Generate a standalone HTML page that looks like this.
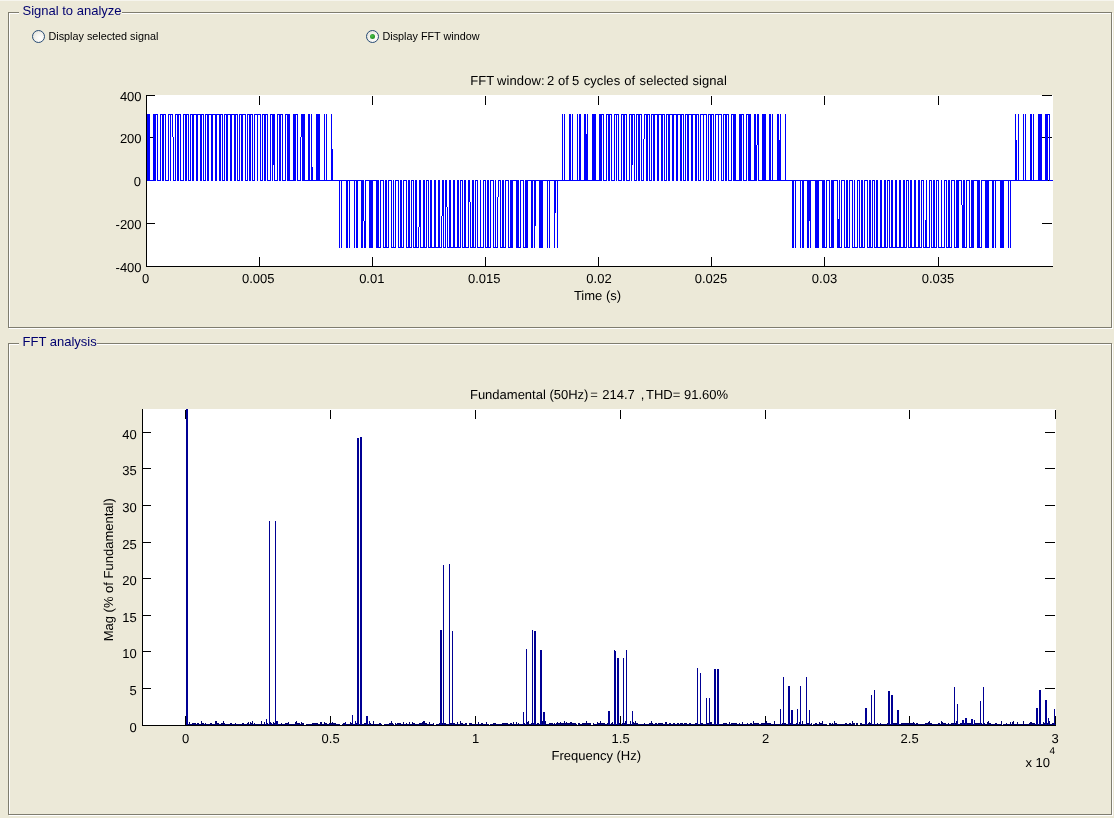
<!DOCTYPE html>
<html><head><meta charset="utf-8"><title>FFT Analysis</title>
<style>
html,body{margin:0;padding:0}
body{width:1114px;height:818px;overflow:hidden;background:#ECE9D8;position:relative;font-family:"Liberation Sans",Arial,sans-serif;}
.topline{position:absolute;left:0;top:0;width:1114px;height:1px;background:#F6F5EE}
.pnl{position:absolute;box-sizing:border-box;border:1px solid #7F7D6F}
.pnl.w{border-color:#fff}
.cap{position:absolute;background:#ECE9D8;color:#00006E;font-size:13px;line-height:15px;height:15px;padding:0 0.5px 0 3.5px;white-space:nowrap}
.rb{position:absolute;width:13px;height:13px;box-sizing:border-box;border:1px solid #274B75;border-radius:50%;background:radial-gradient(circle at 65% 65%,#fff 0%,#f4f3ee 45%,#dcdcd4 100%)}
.rb.on::after{content:"";position:absolute;left:3px;top:3px;width:5px;height:5px;border-radius:50%;background:radial-gradient(circle at 40% 40%,#4cc24c,#2a9a2a 55%,#1e7a1e)}
.lbl{position:absolute;font-size:10.8px;line-height:13px;color:#000;white-space:nowrap}
</style></head><body>
<div class="topline"></div>
<div class="pnl w" style="left:9px;top:13px;width:1104px;height:316px"></div>
<div class="pnl" style="left:8px;top:12px;width:1104px;height:316px"></div>
<div class="cap" style="left:19px;top:3px">Signal to analyze</div>
<div class="pnl w" style="left:9px;top:344px;width:1104px;height:472px"></div>
<div class="pnl" style="left:8px;top:343px;width:1104px;height:472px"></div>
<div class="cap" style="left:19px;top:334px">FFT analysis</div>
<div class="rb" style="left:32px;top:30px"></div>
<div class="lbl" style="left:48.5px;top:29.5px">Display selected signal</div>
<div class="rb on" style="left:366px;top:30px"></div>
<div class="lbl" style="left:382.5px;top:29.5px">Display FFT window</div>
<svg width="1114" height="818" viewBox="0 0 1114 818" style="position:absolute;left:0;top:0" shape-rendering="crispEdges"><rect x="146" y="95" width="907" height="172" fill="#fff"/><g fill="#000"><rect x="146" y="95" width="1" height="172"/><rect x="146" y="266" width="907" height="1"/><rect x="146" y="95" width="9" height="1"/><rect x="1042" y="95" width="10" height="1"/><rect x="146" y="137" width="9" height="1"/><rect x="1042" y="137" width="10" height="1"/><rect x="146" y="180" width="9" height="1"/><rect x="1042" y="180" width="10" height="1"/><rect x="146" y="223" width="9" height="1"/><rect x="1042" y="223" width="10" height="1"/><rect x="146" y="266" width="9" height="1"/><rect x="146" y="257" width="1" height="10"/><rect x="259" y="257" width="1" height="10"/><rect x="259" y="96" width="1" height="9"/><rect x="372" y="257" width="1" height="10"/><rect x="372" y="96" width="1" height="9"/><rect x="485" y="257" width="1" height="10"/><rect x="485" y="96" width="1" height="9"/><rect x="598" y="257" width="1" height="10"/><rect x="598" y="96" width="1" height="9"/><rect x="711" y="257" width="1" height="10"/><rect x="711" y="96" width="1" height="9"/><rect x="824" y="257" width="1" height="10"/><rect x="824" y="96" width="1" height="9"/><rect x="938" y="257" width="1" height="10"/><rect x="938" y="96" width="1" height="9"/></g><g fill="#0000FF"><rect x="147" y="114" width="3" height="1"/><rect x="153" y="114" width="5" height="1"/><rect x="160" y="114" width="6" height="1"/><rect x="168" y="114" width="5" height="1"/><rect x="175" y="114" width="6" height="1"/><rect x="183" y="114" width="6" height="1"/><rect x="190" y="114" width="14" height="1"/><rect x="205" y="114" width="18" height="1"/><rect x="224" y="114" width="14" height="1"/><rect x="239" y="114" width="7" height="1"/><rect x="247" y="114" width="6" height="1"/><rect x="254" y="114" width="7" height="1"/><rect x="262" y="114" width="6" height="1"/><rect x="270" y="114" width="5" height="1"/><rect x="277" y="114" width="6" height="1"/><rect x="285" y="114" width="5" height="1"/><rect x="293" y="114" width="5" height="1"/><rect x="301" y="114" width="4" height="1"/><rect x="308" y="114" width="2" height="1"/><rect x="311" y="114" width="1" height="1"/><rect x="316" y="114" width="4" height="1"/><rect x="324" y="114" width="1" height="1"/><rect x="326" y="114" width="1" height="1"/><rect x="331" y="114" width="1" height="1"/><rect x="562" y="114" width="1" height="1"/><rect x="564" y="114" width="1" height="1"/><rect x="569" y="114" width="2" height="1"/><rect x="572" y="114" width="1" height="1"/><rect x="577" y="114" width="1" height="1"/><rect x="579" y="114" width="2" height="1"/><rect x="584" y="114" width="2" height="1"/><rect x="587" y="114" width="1" height="1"/><rect x="592" y="114" width="4" height="1"/><rect x="599" y="114" width="5" height="1"/><rect x="606" y="114" width="6" height="1"/><rect x="614" y="114" width="5" height="1"/><rect x="621" y="114" width="6" height="1"/><rect x="629" y="114" width="6" height="1"/><rect x="636" y="114" width="6" height="1"/><rect x="644" y="114" width="6" height="1"/><rect x="651" y="114" width="14" height="1"/><rect x="666" y="114" width="18" height="1"/><rect x="685" y="114" width="14" height="1"/><rect x="700" y="114" width="7" height="1"/><rect x="708" y="114" width="6" height="1"/><rect x="715" y="114" width="7" height="1"/><rect x="723" y="114" width="6" height="1"/><rect x="731" y="114" width="5" height="1"/><rect x="739" y="114" width="5" height="1"/><rect x="746" y="114" width="5" height="1"/><rect x="754" y="114" width="2" height="1"/><rect x="757" y="114" width="2" height="1"/><rect x="762" y="114" width="4" height="1"/><rect x="769" y="114" width="2" height="1"/><rect x="772" y="114" width="1" height="1"/><rect x="777" y="114" width="2" height="1"/><rect x="780" y="114" width="1" height="1"/><rect x="785" y="114" width="1" height="1"/><rect x="1015" y="114" width="1" height="1"/><rect x="1018" y="114" width="1" height="1"/><rect x="1023" y="114" width="1" height="1"/><rect x="1025" y="114" width="1" height="1"/><rect x="1030" y="114" width="2" height="1"/><rect x="1033" y="114" width="1" height="1"/><rect x="1038" y="114" width="4" height="1"/><rect x="1045" y="114" width="5" height="1"/><rect x="147" y="180" width="9" height="1"/><rect x="157" y="180" width="4" height="1"/><rect x="162" y="180" width="2" height="1"/><rect x="165" y="180" width="4" height="1"/><rect x="170" y="180" width="1" height="1"/><rect x="173" y="180" width="3" height="1"/><rect x="177" y="180" width="2" height="1"/><rect x="180" y="180" width="4" height="1"/><rect x="185" y="180" width="2" height="1"/><rect x="188" y="180" width="3" height="1"/><rect x="192" y="180" width="2" height="1"/><rect x="196" y="180" width="2" height="1"/><rect x="200" y="180" width="2" height="1"/><rect x="203" y="180" width="3" height="1"/><rect x="207" y="180" width="2" height="1"/><rect x="211" y="180" width="2" height="1"/><rect x="215" y="180" width="2" height="1"/><rect x="219" y="180" width="2" height="1"/><rect x="222" y="180" width="3" height="1"/><rect x="226" y="180" width="2" height="1"/><rect x="230" y="180" width="2" height="1"/><rect x="234" y="180" width="2" height="1"/><rect x="237" y="180" width="3" height="1"/><rect x="241" y="180" width="2" height="1"/><rect x="245" y="180" width="3" height="1"/><rect x="249" y="180" width="2" height="1"/><rect x="252" y="180" width="3" height="1"/><rect x="257" y="180" width="1" height="1"/><rect x="260" y="180" width="3" height="1"/><rect x="264" y="180" width="2" height="1"/><rect x="267" y="180" width="4" height="1"/><rect x="272" y="180" width="1" height="1"/><rect x="274" y="180" width="4" height="1"/><rect x="279" y="180" width="2" height="1"/><rect x="282" y="180" width="4" height="1"/><rect x="287" y="180" width="9" height="1"/><rect x="297" y="180" width="4" height="1"/><rect x="302" y="180" width="62" height="1"/><rect x="365" y="180" width="14" height="1"/><rect x="380" y="180" width="4" height="1"/><rect x="385" y="180" width="2" height="1"/><rect x="388" y="180" width="4" height="1"/><rect x="393" y="180" width="1" height="1"/><rect x="395" y="180" width="4" height="1"/><rect x="400" y="180" width="2" height="1"/><rect x="403" y="180" width="4" height="1"/><rect x="408" y="180" width="2" height="1"/><rect x="411" y="180" width="3" height="1"/><rect x="415" y="180" width="2" height="1"/><rect x="419" y="180" width="2" height="1"/><rect x="423" y="180" width="2" height="1"/><rect x="426" y="180" width="3" height="1"/><rect x="430" y="180" width="2" height="1"/><rect x="434" y="180" width="2" height="1"/><rect x="438" y="180" width="2" height="1"/><rect x="442" y="180" width="2" height="1"/><rect x="445" y="180" width="2" height="1"/><rect x="449" y="180" width="2" height="1"/><rect x="453" y="180" width="2" height="1"/><rect x="457" y="180" width="2" height="1"/><rect x="460" y="180" width="3" height="1"/><rect x="464" y="180" width="2" height="1"/><rect x="468" y="180" width="2" height="1"/><rect x="472" y="180" width="2" height="1"/><rect x="475" y="180" width="3" height="1"/><rect x="480" y="180" width="1" height="1"/><rect x="483" y="180" width="3" height="1"/><rect x="487" y="180" width="2" height="1"/><rect x="490" y="180" width="4" height="1"/><rect x="495" y="180" width="1" height="1"/><rect x="498" y="180" width="3" height="1"/><rect x="502" y="180" width="2" height="1"/><rect x="505" y="180" width="4" height="1"/><rect x="510" y="180" width="9" height="1"/><rect x="520" y="180" width="4" height="1"/><rect x="525" y="180" width="77" height="1"/><rect x="603" y="180" width="4" height="1"/><rect x="608" y="180" width="2" height="1"/><rect x="611" y="180" width="4" height="1"/><rect x="616" y="180" width="1" height="1"/><rect x="618" y="180" width="4" height="1"/><rect x="623" y="180" width="2" height="1"/><rect x="626" y="180" width="4" height="1"/><rect x="631" y="180" width="1" height="1"/><rect x="634" y="180" width="3" height="1"/><rect x="638" y="180" width="2" height="1"/><rect x="641" y="180" width="3" height="1"/><rect x="646" y="180" width="2" height="1"/><rect x="649" y="180" width="3" height="1"/><rect x="653" y="180" width="2" height="1"/><rect x="657" y="180" width="2" height="1"/><rect x="661" y="180" width="2" height="1"/><rect x="664" y="180" width="3" height="1"/><rect x="668" y="180" width="2" height="1"/><rect x="672" y="180" width="2" height="1"/><rect x="676" y="180" width="2" height="1"/><rect x="680" y="180" width="2" height="1"/><rect x="683" y="180" width="3" height="1"/><rect x="687" y="180" width="2" height="1"/><rect x="691" y="180" width="2" height="1"/><rect x="695" y="180" width="2" height="1"/><rect x="698" y="180" width="3" height="1"/><rect x="703" y="180" width="1" height="1"/><rect x="706" y="180" width="3" height="1"/><rect x="710" y="180" width="2" height="1"/><rect x="713" y="180" width="3" height="1"/><rect x="718" y="180" width="1" height="1"/><rect x="721" y="180" width="3" height="1"/><rect x="725" y="180" width="2" height="1"/><rect x="728" y="180" width="4" height="1"/><rect x="733" y="180" width="9" height="1"/><rect x="743" y="180" width="4" height="1"/><rect x="748" y="180" width="9" height="1"/><rect x="758" y="180" width="67" height="1"/><rect x="826" y="180" width="4" height="1"/><rect x="831" y="180" width="7" height="1"/><rect x="839" y="180" width="1" height="1"/><rect x="841" y="180" width="4" height="1"/><rect x="846" y="180" width="2" height="1"/><rect x="849" y="180" width="4" height="1"/><rect x="854" y="180" width="1" height="1"/><rect x="857" y="180" width="3" height="1"/><rect x="861" y="180" width="2" height="1"/><rect x="864" y="180" width="4" height="1"/><rect x="869" y="180" width="2" height="1"/><rect x="872" y="180" width="3" height="1"/><rect x="876" y="180" width="2" height="1"/><rect x="880" y="180" width="2" height="1"/><rect x="884" y="180" width="2" height="1"/><rect x="887" y="180" width="3" height="1"/><rect x="891" y="180" width="2" height="1"/><rect x="895" y="180" width="2" height="1"/><rect x="899" y="180" width="2" height="1"/><rect x="903" y="180" width="2" height="1"/><rect x="906" y="180" width="3" height="1"/><rect x="910" y="180" width="2" height="1"/><rect x="914" y="180" width="2" height="1"/><rect x="918" y="180" width="2" height="1"/><rect x="921" y="180" width="3" height="1"/><rect x="926" y="180" width="1" height="1"/><rect x="929" y="180" width="3" height="1"/><rect x="933" y="180" width="2" height="1"/><rect x="936" y="180" width="3" height="1"/><rect x="941" y="180" width="1" height="1"/><rect x="944" y="180" width="3" height="1"/><rect x="948" y="180" width="2" height="1"/><rect x="951" y="180" width="4" height="1"/><rect x="956" y="180" width="6" height="1"/><rect x="963" y="180" width="2" height="1"/><rect x="966" y="180" width="4" height="1"/><rect x="971" y="180" width="9" height="1"/><rect x="981" y="180" width="67" height="1"/><rect x="1049" y="180" width="4" height="1"/><rect x="339" y="247" width="1" height="1"/><rect x="341" y="247" width="1" height="1"/><rect x="346" y="247" width="2" height="1"/><rect x="349" y="247" width="1" height="1"/><rect x="354" y="247" width="1" height="1"/><rect x="356" y="247" width="2" height="1"/><rect x="361" y="247" width="2" height="1"/><rect x="364" y="247" width="2" height="1"/><rect x="369" y="247" width="4" height="1"/><rect x="376" y="247" width="5" height="1"/><rect x="383" y="247" width="6" height="1"/><rect x="391" y="247" width="5" height="1"/><rect x="398" y="247" width="6" height="1"/><rect x="406" y="247" width="6" height="1"/><rect x="413" y="247" width="6" height="1"/><rect x="420" y="247" width="7" height="1"/><rect x="428" y="247" width="14" height="1"/><rect x="443" y="247" width="3" height="1"/><rect x="447" y="247" width="14" height="1"/><rect x="462" y="247" width="7" height="1"/><rect x="470" y="247" width="6" height="1"/><rect x="477" y="247" width="7" height="1"/><rect x="485" y="247" width="6" height="1"/><rect x="493" y="247" width="5" height="1"/><rect x="500" y="247" width="6" height="1"/><rect x="508" y="247" width="5" height="1"/><rect x="516" y="247" width="5" height="1"/><rect x="523" y="247" width="5" height="1"/><rect x="531" y="247" width="2" height="1"/><rect x="534" y="247" width="1" height="1"/><rect x="539" y="247" width="4" height="1"/><rect x="547" y="247" width="1" height="1"/><rect x="549" y="247" width="1" height="1"/><rect x="554" y="247" width="1" height="1"/><rect x="557" y="247" width="1" height="1"/><rect x="792" y="247" width="2" height="1"/><rect x="795" y="247" width="1" height="1"/><rect x="800" y="247" width="1" height="1"/><rect x="802" y="247" width="2" height="1"/><rect x="807" y="247" width="2" height="1"/><rect x="810" y="247" width="1" height="1"/><rect x="815" y="247" width="4" height="1"/><rect x="822" y="247" width="5" height="1"/><rect x="829" y="247" width="5" height="1"/><rect x="837" y="247" width="5" height="1"/><rect x="844" y="247" width="6" height="1"/><rect x="852" y="247" width="6" height="1"/><rect x="859" y="247" width="6" height="1"/><rect x="867" y="247" width="6" height="1"/><rect x="874" y="247" width="14" height="1"/><rect x="889" y="247" width="18" height="1"/><rect x="908" y="247" width="14" height="1"/><rect x="923" y="247" width="7" height="1"/><rect x="931" y="247" width="6" height="1"/><rect x="938" y="247" width="7" height="1"/><rect x="946" y="247" width="6" height="1"/><rect x="954" y="247" width="5" height="1"/><rect x="962" y="247" width="5" height="1"/><rect x="969" y="247" width="5" height="1"/><rect x="977" y="247" width="5" height="1"/><rect x="985" y="247" width="4" height="1"/><rect x="992" y="247" width="2" height="1"/><rect x="995" y="247" width="1" height="1"/><rect x="1000" y="247" width="4" height="1"/><rect x="1008" y="247" width="1" height="1"/><rect x="1010" y="247" width="1" height="1"/><rect x="147" y="114" width="3" height="67"/><rect x="153" y="114" width="3" height="67"/><rect x="157" y="114" width="1" height="67"/><rect x="160" y="114" width="1" height="67"/><rect x="162" y="114" width="2" height="67"/><rect x="165" y="114" width="1" height="67"/><rect x="168" y="114" width="1" height="67"/><rect x="170" y="114" width="1" height="67"/><rect x="175" y="114" width="1" height="67"/><rect x="177" y="114" width="2" height="67"/><rect x="180" y="114" width="1" height="67"/><rect x="183" y="114" width="1" height="67"/><rect x="185" y="114" width="2" height="67"/><rect x="188" y="114" width="1" height="67"/><rect x="190" y="114" width="1" height="67"/><rect x="192" y="114" width="2" height="67"/><rect x="196" y="114" width="2" height="67"/><rect x="200" y="114" width="2" height="67"/><rect x="203" y="114" width="1" height="67"/><rect x="205" y="114" width="1" height="67"/><rect x="207" y="114" width="2" height="67"/><rect x="211" y="114" width="2" height="67"/><rect x="215" y="114" width="2" height="67"/><rect x="219" y="114" width="2" height="67"/><rect x="222" y="114" width="1" height="67"/><rect x="224" y="114" width="1" height="67"/><rect x="226" y="114" width="2" height="67"/><rect x="230" y="114" width="2" height="67"/><rect x="234" y="114" width="2" height="67"/><rect x="237" y="114" width="1" height="67"/><rect x="239" y="114" width="1" height="67"/><rect x="241" y="114" width="2" height="67"/><rect x="245" y="114" width="1" height="67"/><rect x="247" y="114" width="1" height="67"/><rect x="249" y="114" width="2" height="67"/><rect x="252" y="114" width="1" height="67"/><rect x="254" y="114" width="1" height="67"/><rect x="257" y="114" width="1" height="67"/><rect x="260" y="114" width="1" height="67"/><rect x="262" y="114" width="1" height="67"/><rect x="264" y="114" width="2" height="67"/><rect x="267" y="114" width="1" height="67"/><rect x="270" y="114" width="1" height="67"/><rect x="272" y="114" width="1" height="67"/><rect x="274" y="114" width="1" height="67"/><rect x="277" y="114" width="1" height="67"/><rect x="279" y="114" width="2" height="67"/><rect x="282" y="114" width="1" height="67"/><rect x="285" y="114" width="1" height="67"/><rect x="287" y="114" width="3" height="67"/><rect x="293" y="114" width="3" height="67"/><rect x="297" y="114" width="1" height="67"/><rect x="302" y="114" width="3" height="67"/><rect x="308" y="114" width="2" height="67"/><rect x="311" y="114" width="1" height="67"/><rect x="316" y="114" width="4" height="67"/><rect x="324" y="114" width="1" height="67"/><rect x="326" y="114" width="1" height="67"/><rect x="331" y="114" width="1" height="67"/><rect x="562" y="114" width="1" height="67"/><rect x="564" y="114" width="1" height="67"/><rect x="569" y="114" width="2" height="67"/><rect x="572" y="114" width="1" height="67"/><rect x="577" y="114" width="1" height="67"/><rect x="579" y="114" width="2" height="67"/><rect x="584" y="114" width="2" height="67"/><rect x="587" y="114" width="1" height="67"/><rect x="592" y="114" width="4" height="67"/><rect x="599" y="114" width="3" height="67"/><rect x="603" y="114" width="1" height="67"/><rect x="606" y="114" width="1" height="67"/><rect x="608" y="114" width="2" height="67"/><rect x="611" y="114" width="1" height="67"/><rect x="614" y="114" width="1" height="67"/><rect x="616" y="114" width="1" height="67"/><rect x="618" y="114" width="1" height="67"/><rect x="621" y="114" width="1" height="67"/><rect x="623" y="114" width="2" height="67"/><rect x="626" y="114" width="1" height="67"/><rect x="629" y="114" width="1" height="67"/><rect x="631" y="114" width="1" height="67"/><rect x="634" y="114" width="1" height="67"/><rect x="636" y="114" width="1" height="67"/><rect x="638" y="114" width="2" height="67"/><rect x="641" y="114" width="1" height="67"/><rect x="646" y="114" width="2" height="67"/><rect x="649" y="114" width="1" height="67"/><rect x="651" y="114" width="1" height="67"/><rect x="653" y="114" width="2" height="67"/><rect x="657" y="114" width="2" height="67"/><rect x="661" y="114" width="2" height="67"/><rect x="664" y="114" width="1" height="67"/><rect x="666" y="114" width="1" height="67"/><rect x="668" y="114" width="2" height="67"/><rect x="672" y="114" width="2" height="67"/><rect x="676" y="114" width="2" height="67"/><rect x="680" y="114" width="2" height="67"/><rect x="683" y="114" width="1" height="67"/><rect x="685" y="114" width="1" height="67"/><rect x="687" y="114" width="2" height="67"/><rect x="691" y="114" width="2" height="67"/><rect x="695" y="114" width="2" height="67"/><rect x="698" y="114" width="1" height="67"/><rect x="700" y="114" width="1" height="67"/><rect x="703" y="114" width="1" height="67"/><rect x="706" y="114" width="1" height="67"/><rect x="708" y="114" width="1" height="67"/><rect x="710" y="114" width="2" height="67"/><rect x="713" y="114" width="1" height="67"/><rect x="715" y="114" width="1" height="67"/><rect x="718" y="114" width="1" height="67"/><rect x="721" y="114" width="1" height="67"/><rect x="723" y="114" width="1" height="67"/><rect x="725" y="114" width="2" height="67"/><rect x="728" y="114" width="1" height="67"/><rect x="731" y="114" width="1" height="67"/><rect x="733" y="114" width="3" height="67"/><rect x="739" y="114" width="3" height="67"/><rect x="743" y="114" width="1" height="67"/><rect x="746" y="114" width="1" height="67"/><rect x="748" y="114" width="3" height="67"/><rect x="754" y="114" width="2" height="67"/><rect x="758" y="114" width="1" height="67"/><rect x="762" y="114" width="4" height="67"/><rect x="769" y="114" width="2" height="67"/><rect x="772" y="114" width="1" height="67"/><rect x="777" y="114" width="2" height="67"/><rect x="780" y="114" width="1" height="67"/><rect x="785" y="114" width="1" height="67"/><rect x="1015" y="114" width="1" height="67"/><rect x="1018" y="114" width="1" height="67"/><rect x="1023" y="114" width="1" height="67"/><rect x="1025" y="114" width="1" height="67"/><rect x="1030" y="114" width="2" height="67"/><rect x="1033" y="114" width="1" height="67"/><rect x="1038" y="114" width="4" height="67"/><rect x="1045" y="114" width="3" height="67"/><rect x="1049" y="114" width="1" height="67"/><rect x="172" y="114" width="1" height="23"/><rect x="301" y="114" width="1" height="23"/><rect x="173" y="137" width="1" height="44"/><rect x="300" y="137" width="1" height="44"/><rect x="273" y="114" width="1" height="51"/><rect x="632" y="114" width="1" height="51"/><rect x="312" y="167" width="1" height="14"/><rect x="332" y="149" width="1" height="32"/><rect x="339" y="180" width="1" height="68"/><rect x="341" y="180" width="1" height="68"/><rect x="346" y="180" width="2" height="68"/><rect x="349" y="180" width="1" height="68"/><rect x="354" y="180" width="1" height="68"/><rect x="356" y="180" width="2" height="68"/><rect x="361" y="180" width="2" height="68"/><rect x="365" y="180" width="1" height="68"/><rect x="369" y="180" width="4" height="68"/><rect x="376" y="180" width="3" height="68"/><rect x="380" y="180" width="1" height="68"/><rect x="383" y="180" width="1" height="68"/><rect x="385" y="180" width="2" height="68"/><rect x="388" y="180" width="1" height="68"/><rect x="391" y="180" width="1" height="68"/><rect x="393" y="180" width="1" height="68"/><rect x="395" y="180" width="1" height="68"/><rect x="398" y="180" width="1" height="68"/><rect x="400" y="180" width="2" height="68"/><rect x="403" y="180" width="1" height="68"/><rect x="406" y="180" width="1" height="68"/><rect x="408" y="180" width="2" height="68"/><rect x="411" y="180" width="1" height="68"/><rect x="413" y="180" width="1" height="68"/><rect x="415" y="180" width="2" height="68"/><rect x="420" y="180" width="1" height="68"/><rect x="423" y="180" width="2" height="68"/><rect x="426" y="180" width="1" height="68"/><rect x="428" y="180" width="1" height="68"/><rect x="430" y="180" width="2" height="68"/><rect x="434" y="180" width="2" height="68"/><rect x="438" y="180" width="2" height="68"/><rect x="443" y="180" width="1" height="68"/><rect x="445" y="180" width="1" height="68"/><rect x="449" y="180" width="2" height="68"/><rect x="453" y="180" width="2" height="68"/><rect x="457" y="180" width="2" height="68"/><rect x="460" y="180" width="1" height="68"/><rect x="462" y="180" width="1" height="68"/><rect x="464" y="180" width="2" height="68"/><rect x="468" y="180" width="1" height="68"/><rect x="472" y="180" width="2" height="68"/><rect x="475" y="180" width="1" height="68"/><rect x="477" y="180" width="1" height="68"/><rect x="480" y="180" width="1" height="68"/><rect x="483" y="180" width="1" height="68"/><rect x="485" y="180" width="1" height="68"/><rect x="487" y="180" width="2" height="68"/><rect x="490" y="180" width="1" height="68"/><rect x="493" y="180" width="1" height="68"/><rect x="495" y="180" width="1" height="68"/><rect x="500" y="180" width="1" height="68"/><rect x="502" y="180" width="2" height="68"/><rect x="505" y="180" width="1" height="68"/><rect x="508" y="180" width="1" height="68"/><rect x="510" y="180" width="3" height="68"/><rect x="516" y="180" width="3" height="68"/><rect x="520" y="180" width="1" height="68"/><rect x="523" y="180" width="1" height="68"/><rect x="525" y="180" width="3" height="68"/><rect x="531" y="180" width="2" height="68"/><rect x="534" y="180" width="1" height="68"/><rect x="539" y="180" width="4" height="68"/><rect x="547" y="180" width="1" height="68"/><rect x="549" y="180" width="1" height="68"/><rect x="554" y="180" width="1" height="68"/><rect x="557" y="180" width="1" height="68"/><rect x="792" y="180" width="2" height="68"/><rect x="795" y="180" width="1" height="68"/><rect x="800" y="180" width="1" height="68"/><rect x="802" y="180" width="2" height="68"/><rect x="807" y="180" width="2" height="68"/><rect x="810" y="180" width="1" height="68"/><rect x="815" y="180" width="4" height="68"/><rect x="822" y="180" width="3" height="68"/><rect x="826" y="180" width="1" height="68"/><rect x="829" y="180" width="1" height="68"/><rect x="831" y="180" width="3" height="68"/><rect x="837" y="180" width="1" height="68"/><rect x="839" y="180" width="1" height="68"/><rect x="841" y="180" width="1" height="68"/><rect x="844" y="180" width="1" height="68"/><rect x="846" y="180" width="2" height="68"/><rect x="849" y="180" width="1" height="68"/><rect x="852" y="180" width="1" height="68"/><rect x="854" y="180" width="1" height="68"/><rect x="857" y="180" width="1" height="68"/><rect x="859" y="180" width="1" height="68"/><rect x="861" y="180" width="2" height="68"/><rect x="864" y="180" width="1" height="68"/><rect x="867" y="180" width="1" height="68"/><rect x="869" y="180" width="2" height="68"/><rect x="872" y="180" width="1" height="68"/><rect x="874" y="180" width="1" height="68"/><rect x="876" y="180" width="2" height="68"/><rect x="880" y="180" width="2" height="68"/><rect x="884" y="180" width="2" height="68"/><rect x="887" y="180" width="1" height="68"/><rect x="889" y="180" width="1" height="68"/><rect x="891" y="180" width="2" height="68"/><rect x="895" y="180" width="2" height="68"/><rect x="899" y="180" width="2" height="68"/><rect x="903" y="180" width="2" height="68"/><rect x="906" y="180" width="1" height="68"/><rect x="908" y="180" width="1" height="68"/><rect x="910" y="180" width="2" height="68"/><rect x="914" y="180" width="2" height="68"/><rect x="918" y="180" width="2" height="68"/><rect x="921" y="180" width="1" height="68"/><rect x="923" y="180" width="1" height="68"/><rect x="926" y="180" width="1" height="68"/><rect x="929" y="180" width="1" height="68"/><rect x="931" y="180" width="1" height="68"/><rect x="933" y="180" width="2" height="68"/><rect x="936" y="180" width="1" height="68"/><rect x="938" y="180" width="1" height="68"/><rect x="941" y="180" width="1" height="68"/><rect x="944" y="180" width="1" height="68"/><rect x="946" y="180" width="1" height="68"/><rect x="948" y="180" width="2" height="68"/><rect x="951" y="180" width="1" height="68"/><rect x="954" y="180" width="1" height="68"/><rect x="956" y="180" width="3" height="68"/><rect x="963" y="180" width="2" height="68"/><rect x="966" y="180" width="1" height="68"/><rect x="969" y="180" width="1" height="68"/><rect x="971" y="180" width="3" height="68"/><rect x="977" y="180" width="3" height="68"/><rect x="981" y="180" width="1" height="68"/><rect x="985" y="180" width="4" height="68"/><rect x="992" y="180" width="2" height="68"/><rect x="995" y="180" width="1" height="68"/><rect x="1000" y="180" width="4" height="68"/><rect x="1008" y="180" width="1" height="68"/><rect x="1010" y="180" width="1" height="68"/><rect x="363" y="180" width="1" height="41"/><rect x="809" y="180" width="1" height="41"/><rect x="364" y="221" width="1" height="27"/><rect x="418" y="227" width="1" height="21"/><rect x="419" y="180" width="1" height="47"/><rect x="441" y="216" width="1" height="32"/><rect x="442" y="180" width="1" height="36"/><rect x="446" y="180" width="1" height="27"/><rect x="447" y="207" width="1" height="41"/><rect x="469" y="180" width="1" height="22"/><rect x="470" y="202" width="1" height="46"/><rect x="497" y="197" width="1" height="51"/><rect x="498" y="180" width="1" height="17"/><rect x="535" y="180" width="1" height="46"/><rect x="555" y="180" width="1" height="33"/><rect x="586" y="134" width="1" height="47"/><rect x="643" y="139" width="1" height="42"/><rect x="644" y="114" width="1" height="25"/><rect x="756" y="145" width="1" height="36"/><rect x="757" y="114" width="1" height="31"/><rect x="779" y="140" width="1" height="41"/><rect x="1016" y="140" width="1" height="41"/><rect x="838" y="219" width="1" height="29"/><rect x="925" y="220" width="1" height="28"/><rect x="961" y="180" width="1" height="25"/><rect x="962" y="205" width="1" height="43"/></g><rect x="142" y="409" width="914" height="317" fill="#fff"/><g fill="#000"><rect x="142" y="409" width="1" height="317"/><rect x="142" y="725" width="914" height="1"/><rect x="142" y="725" width="9" height="1"/><rect x="142" y="688" width="9" height="1"/><rect x="1045" y="688" width="10" height="1"/><rect x="142" y="651" width="9" height="1"/><rect x="1045" y="651" width="10" height="1"/><rect x="142" y="615" width="9" height="1"/><rect x="1045" y="615" width="10" height="1"/><rect x="142" y="578" width="9" height="1"/><rect x="1045" y="578" width="10" height="1"/><rect x="142" y="542" width="9" height="1"/><rect x="1045" y="542" width="10" height="1"/><rect x="142" y="505" width="9" height="1"/><rect x="1045" y="505" width="10" height="1"/><rect x="142" y="468" width="9" height="1"/><rect x="1045" y="468" width="10" height="1"/><rect x="142" y="432" width="9" height="1"/><rect x="1045" y="432" width="10" height="1"/><rect x="185" y="716" width="1" height="10"/><rect x="185" y="410" width="1" height="9"/><rect x="330" y="716" width="1" height="10"/><rect x="330" y="410" width="1" height="9"/><rect x="475" y="716" width="1" height="10"/><rect x="475" y="410" width="1" height="9"/><rect x="620" y="716" width="1" height="10"/><rect x="620" y="410" width="1" height="9"/><rect x="765" y="716" width="1" height="10"/><rect x="765" y="410" width="1" height="9"/><rect x="909" y="716" width="1" height="10"/><rect x="909" y="410" width="1" height="9"/><rect x="1055" y="716" width="1" height="10"/><rect x="1055" y="410" width="1" height="9"/></g><g fill="#00006E"><rect x="187" y="724" width="2" height="1"/><rect x="189" y="722" width="1" height="3"/><rect x="190" y="724" width="2" height="1"/><rect x="192" y="723" width="1" height="2"/><rect x="193" y="723" width="2" height="2"/><rect x="195" y="723" width="1" height="2"/><rect x="196" y="724" width="1" height="1"/><rect x="197" y="723" width="2" height="2"/><rect x="199" y="724" width="2" height="1"/><rect x="201" y="721" width="1" height="4"/><rect x="202" y="723" width="2" height="2"/><rect x="204" y="724" width="1" height="1"/><rect x="205" y="723" width="1" height="2"/><rect x="206" y="724" width="1" height="1"/><rect x="207" y="724" width="1" height="1"/><rect x="208" y="724" width="2" height="1"/><rect x="210" y="723" width="2" height="2"/><rect x="212" y="724" width="2" height="1"/><rect x="214" y="724" width="1" height="1"/><rect x="215" y="721" width="1" height="4"/><rect x="216" y="721" width="1" height="4"/><rect x="217" y="723" width="2" height="2"/><rect x="219" y="724" width="1" height="1"/><rect x="220" y="724" width="1" height="1"/><rect x="221" y="723" width="1" height="2"/><rect x="222" y="723" width="1" height="2"/><rect x="223" y="721" width="1" height="4"/><rect x="224" y="723" width="1" height="2"/><rect x="225" y="724" width="2" height="1"/><rect x="227" y="724" width="2" height="1"/><rect x="229" y="724" width="1" height="1"/><rect x="230" y="723" width="2" height="2"/><rect x="232" y="724" width="1" height="1"/><rect x="233" y="724" width="2" height="1"/><rect x="235" y="723" width="1" height="2"/><rect x="236" y="724" width="1" height="1"/><rect x="237" y="724" width="2" height="1"/><rect x="239" y="724" width="2" height="1"/><rect x="241" y="724" width="1" height="1"/><rect x="242" y="723" width="1" height="2"/><rect x="243" y="723" width="1" height="2"/><rect x="244" y="724" width="1" height="1"/><rect x="245" y="724" width="2" height="1"/><rect x="247" y="723" width="1" height="2"/><rect x="248" y="722" width="1" height="3"/><rect x="249" y="724" width="1" height="1"/><rect x="250" y="722" width="1" height="3"/><rect x="251" y="723" width="1" height="2"/><rect x="252" y="721" width="1" height="4"/><rect x="253" y="724" width="1" height="1"/><rect x="254" y="723" width="1" height="2"/><rect x="255" y="724" width="1" height="1"/><rect x="256" y="724" width="2" height="1"/><rect x="258" y="724" width="2" height="1"/><rect x="260" y="724" width="1" height="1"/><rect x="261" y="721" width="1" height="4"/><rect x="262" y="724" width="2" height="1"/><rect x="264" y="722" width="1" height="3"/><rect x="265" y="724" width="1" height="1"/><rect x="266" y="722" width="1" height="3"/><rect x="267" y="723" width="1" height="2"/><rect x="268" y="724" width="2" height="1"/><rect x="270" y="722" width="1" height="3"/><rect x="271" y="724" width="2" height="1"/><rect x="273" y="722" width="1" height="3"/><rect x="274" y="723" width="1" height="2"/><rect x="275" y="724" width="1" height="1"/><rect x="276" y="721" width="1" height="4"/><rect x="277" y="724" width="2" height="1"/><rect x="279" y="724" width="2" height="1"/><rect x="281" y="723" width="1" height="2"/><rect x="282" y="724" width="2" height="1"/><rect x="284" y="724" width="1" height="1"/><rect x="285" y="723" width="2" height="2"/><rect x="287" y="723" width="1" height="2"/><rect x="288" y="722" width="1" height="3"/><rect x="289" y="724" width="1" height="1"/><rect x="290" y="724" width="1" height="1"/><rect x="291" y="724" width="1" height="1"/><rect x="292" y="724" width="2" height="1"/><rect x="294" y="724" width="1" height="1"/><rect x="295" y="722" width="1" height="3"/><rect x="296" y="721" width="1" height="4"/><rect x="297" y="723" width="2" height="2"/><rect x="299" y="723" width="1" height="2"/><rect x="300" y="724" width="1" height="1"/><rect x="301" y="722" width="1" height="3"/><rect x="302" y="723" width="2" height="2"/><rect x="306" y="724" width="2" height="1"/><rect x="308" y="724" width="2" height="1"/><rect x="310" y="724" width="2" height="1"/><rect x="312" y="723" width="2" height="2"/><rect x="314" y="723" width="2" height="2"/><rect x="316" y="723" width="2" height="2"/><rect x="318" y="724" width="2" height="1"/><rect x="320" y="722" width="1" height="3"/><rect x="321" y="722" width="1" height="3"/><rect x="322" y="724" width="2" height="1"/><rect x="324" y="722" width="1" height="3"/><rect x="325" y="723" width="2" height="2"/><rect x="327" y="724" width="2" height="1"/><rect x="329" y="723" width="1" height="2"/><rect x="330" y="723" width="2" height="2"/><rect x="332" y="722" width="1" height="3"/><rect x="333" y="723" width="1" height="2"/><rect x="334" y="723" width="2" height="2"/><rect x="336" y="724" width="2" height="1"/><rect x="338" y="724" width="2" height="1"/><rect x="342" y="724" width="1" height="1"/><rect x="343" y="723" width="1" height="2"/><rect x="344" y="723" width="2" height="2"/><rect x="346" y="724" width="1" height="1"/><rect x="347" y="724" width="2" height="1"/><rect x="349" y="724" width="1" height="1"/><rect x="350" y="722" width="1" height="3"/><rect x="351" y="723" width="1" height="2"/><rect x="352" y="722" width="1" height="3"/><rect x="353" y="724" width="2" height="1"/><rect x="355" y="724" width="1" height="1"/><rect x="356" y="723" width="2" height="2"/><rect x="358" y="722" width="1" height="3"/><rect x="359" y="724" width="2" height="1"/><rect x="361" y="724" width="1" height="1"/><rect x="362" y="724" width="2" height="1"/><rect x="364" y="723" width="2" height="2"/><rect x="366" y="721" width="1" height="4"/><rect x="367" y="724" width="1" height="1"/><rect x="368" y="724" width="1" height="1"/><rect x="369" y="724" width="1" height="1"/><rect x="370" y="723" width="1" height="2"/><rect x="371" y="724" width="2" height="1"/><rect x="373" y="721" width="1" height="4"/><rect x="374" y="724" width="1" height="1"/><rect x="375" y="724" width="2" height="1"/><rect x="377" y="724" width="2" height="1"/><rect x="379" y="723" width="1" height="2"/><rect x="380" y="723" width="1" height="2"/><rect x="381" y="724" width="1" height="1"/><rect x="384" y="724" width="1" height="1"/><rect x="385" y="724" width="2" height="1"/><rect x="387" y="724" width="2" height="1"/><rect x="389" y="723" width="2" height="2"/><rect x="391" y="721" width="1" height="4"/><rect x="392" y="723" width="1" height="2"/><rect x="393" y="724" width="1" height="1"/><rect x="395" y="723" width="1" height="2"/><rect x="396" y="724" width="1" height="1"/><rect x="397" y="723" width="2" height="2"/><rect x="399" y="723" width="2" height="2"/><rect x="401" y="724" width="2" height="1"/><rect x="403" y="722" width="1" height="3"/><rect x="404" y="724" width="2" height="1"/><rect x="406" y="723" width="1" height="2"/><rect x="407" y="724" width="2" height="1"/><rect x="409" y="722" width="1" height="3"/><rect x="410" y="724" width="2" height="1"/><rect x="412" y="722" width="1" height="3"/><rect x="413" y="723" width="2" height="2"/><rect x="415" y="724" width="2" height="1"/><rect x="417" y="724" width="2" height="1"/><rect x="419" y="723" width="2" height="2"/><rect x="421" y="723" width="1" height="2"/><rect x="422" y="722" width="1" height="3"/><rect x="423" y="721" width="1" height="4"/><rect x="424" y="721" width="1" height="4"/><rect x="425" y="723" width="2" height="2"/><rect x="427" y="724" width="2" height="1"/><rect x="429" y="722" width="1" height="3"/><rect x="430" y="724" width="1" height="1"/><rect x="431" y="724" width="2" height="1"/><rect x="433" y="723" width="1" height="2"/><rect x="436" y="724" width="2" height="1"/><rect x="438" y="724" width="1" height="1"/><rect x="439" y="723" width="1" height="2"/><rect x="440" y="724" width="2" height="1"/><rect x="442" y="723" width="2" height="2"/><rect x="444" y="723" width="2" height="2"/><rect x="446" y="724" width="2" height="1"/><rect x="448" y="724" width="1" height="1"/><rect x="449" y="723" width="1" height="2"/><rect x="450" y="723" width="2" height="2"/><rect x="452" y="723" width="2" height="2"/><rect x="454" y="723" width="1" height="2"/><rect x="455" y="724" width="2" height="1"/><rect x="457" y="722" width="1" height="3"/><rect x="458" y="724" width="2" height="1"/><rect x="460" y="721" width="1" height="4"/><rect x="461" y="723" width="2" height="2"/><rect x="463" y="724" width="2" height="1"/><rect x="465" y="723" width="2" height="2"/><rect x="469" y="723" width="1" height="2"/><rect x="470" y="723" width="2" height="2"/><rect x="472" y="724" width="2" height="1"/><rect x="474" y="724" width="2" height="1"/><rect x="476" y="724" width="2" height="1"/><rect x="478" y="722" width="1" height="3"/><rect x="479" y="724" width="1" height="1"/><rect x="480" y="724" width="1" height="1"/><rect x="481" y="723" width="2" height="2"/><rect x="483" y="724" width="1" height="1"/><rect x="484" y="724" width="2" height="1"/><rect x="486" y="722" width="1" height="3"/><rect x="487" y="724" width="2" height="1"/><rect x="490" y="724" width="2" height="1"/><rect x="492" y="724" width="1" height="1"/><rect x="493" y="723" width="1" height="2"/><rect x="494" y="723" width="1" height="2"/><rect x="495" y="723" width="1" height="2"/><rect x="496" y="724" width="2" height="1"/><rect x="498" y="724" width="1" height="1"/><rect x="499" y="724" width="2" height="1"/><rect x="501" y="724" width="1" height="1"/><rect x="502" y="723" width="2" height="2"/><rect x="504" y="723" width="2" height="2"/><rect x="506" y="723" width="2" height="2"/><rect x="508" y="724" width="2" height="1"/><rect x="510" y="723" width="2" height="2"/><rect x="512" y="724" width="1" height="1"/><rect x="513" y="722" width="1" height="3"/><rect x="514" y="724" width="2" height="1"/><rect x="516" y="722" width="1" height="3"/><rect x="517" y="724" width="1" height="1"/><rect x="518" y="723" width="1" height="2"/><rect x="519" y="724" width="2" height="1"/><rect x="521" y="724" width="2" height="1"/><rect x="523" y="724" width="1" height="1"/><rect x="524" y="723" width="1" height="2"/><rect x="525" y="724" width="2" height="1"/><rect x="527" y="722" width="1" height="3"/><rect x="528" y="721" width="1" height="4"/><rect x="529" y="724" width="2" height="1"/><rect x="531" y="723" width="2" height="2"/><rect x="533" y="723" width="1" height="2"/><rect x="534" y="724" width="1" height="1"/><rect x="535" y="724" width="2" height="1"/><rect x="537" y="723" width="2" height="2"/><rect x="539" y="724" width="1" height="1"/><rect x="540" y="724" width="2" height="1"/><rect x="542" y="721" width="1" height="4"/><rect x="543" y="722" width="1" height="3"/><rect x="544" y="724" width="1" height="1"/><rect x="545" y="721" width="1" height="4"/><rect x="546" y="724" width="2" height="1"/><rect x="548" y="724" width="1" height="1"/><rect x="549" y="723" width="1" height="2"/><rect x="550" y="723" width="1" height="2"/><rect x="551" y="723" width="2" height="2"/><rect x="553" y="724" width="1" height="1"/><rect x="554" y="723" width="1" height="2"/><rect x="555" y="724" width="1" height="1"/><rect x="556" y="723" width="1" height="2"/><rect x="557" y="722" width="1" height="3"/><rect x="558" y="723" width="2" height="2"/><rect x="560" y="722" width="1" height="3"/><rect x="561" y="723" width="1" height="2"/><rect x="562" y="723" width="2" height="2"/><rect x="564" y="721" width="1" height="4"/><rect x="565" y="723" width="1" height="2"/><rect x="566" y="722" width="1" height="3"/><rect x="567" y="723" width="2" height="2"/><rect x="569" y="723" width="1" height="2"/><rect x="570" y="722" width="1" height="3"/><rect x="571" y="722" width="1" height="3"/><rect x="572" y="723" width="2" height="2"/><rect x="574" y="723" width="1" height="2"/><rect x="575" y="723" width="1" height="2"/><rect x="576" y="724" width="1" height="1"/><rect x="578" y="723" width="2" height="2"/><rect x="580" y="724" width="2" height="1"/><rect x="582" y="723" width="1" height="2"/><rect x="583" y="723" width="2" height="2"/><rect x="585" y="723" width="1" height="2"/><rect x="586" y="721" width="1" height="4"/><rect x="587" y="723" width="2" height="2"/><rect x="589" y="723" width="2" height="2"/><rect x="593" y="723" width="1" height="2"/><rect x="594" y="724" width="1" height="1"/><rect x="595" y="724" width="1" height="1"/><rect x="596" y="724" width="1" height="1"/><rect x="597" y="722" width="1" height="3"/><rect x="598" y="723" width="2" height="2"/><rect x="600" y="721" width="1" height="4"/><rect x="601" y="723" width="2" height="2"/><rect x="603" y="723" width="2" height="2"/><rect x="605" y="724" width="2" height="1"/><rect x="607" y="723" width="1" height="2"/><rect x="608" y="722" width="1" height="3"/><rect x="609" y="724" width="1" height="1"/><rect x="610" y="724" width="1" height="1"/><rect x="611" y="723" width="1" height="2"/><rect x="612" y="722" width="1" height="3"/><rect x="613" y="724" width="2" height="1"/><rect x="615" y="723" width="1" height="2"/><rect x="616" y="724" width="2" height="1"/><rect x="618" y="723" width="1" height="2"/><rect x="619" y="723" width="1" height="2"/><rect x="621" y="724" width="1" height="1"/><rect x="622" y="723" width="1" height="2"/><rect x="623" y="722" width="1" height="3"/><rect x="624" y="723" width="1" height="2"/><rect x="625" y="721" width="1" height="4"/><rect x="626" y="722" width="1" height="3"/><rect x="627" y="724" width="2" height="1"/><rect x="629" y="724" width="1" height="1"/><rect x="630" y="721" width="1" height="4"/><rect x="631" y="724" width="2" height="1"/><rect x="633" y="722" width="1" height="3"/><rect x="634" y="723" width="1" height="2"/><rect x="635" y="721" width="1" height="4"/><rect x="636" y="723" width="2" height="2"/><rect x="638" y="724" width="2" height="1"/><rect x="640" y="724" width="1" height="1"/><rect x="641" y="724" width="2" height="1"/><rect x="643" y="724" width="1" height="1"/><rect x="644" y="723" width="1" height="2"/><rect x="645" y="724" width="2" height="1"/><rect x="647" y="724" width="2" height="1"/><rect x="649" y="723" width="2" height="2"/><rect x="651" y="721" width="1" height="4"/><rect x="652" y="723" width="1" height="2"/><rect x="653" y="724" width="2" height="1"/><rect x="655" y="723" width="2" height="2"/><rect x="657" y="724" width="1" height="1"/><rect x="658" y="723" width="2" height="2"/><rect x="660" y="723" width="2" height="2"/><rect x="662" y="723" width="1" height="2"/><rect x="663" y="724" width="2" height="1"/><rect x="665" y="722" width="1" height="3"/><rect x="666" y="722" width="1" height="3"/><rect x="667" y="724" width="1" height="1"/><rect x="668" y="724" width="1" height="1"/><rect x="669" y="723" width="1" height="2"/><rect x="670" y="723" width="1" height="2"/><rect x="671" y="724" width="2" height="1"/><rect x="673" y="723" width="2" height="2"/><rect x="675" y="724" width="1" height="1"/><rect x="676" y="724" width="1" height="1"/><rect x="677" y="723" width="2" height="2"/><rect x="679" y="724" width="1" height="1"/><rect x="680" y="723" width="2" height="2"/><rect x="682" y="723" width="1" height="2"/><rect x="683" y="724" width="1" height="1"/><rect x="684" y="723" width="1" height="2"/><rect x="685" y="723" width="2" height="2"/><rect x="687" y="724" width="2" height="1"/><rect x="689" y="723" width="2" height="2"/><rect x="691" y="724" width="1" height="1"/><rect x="692" y="724" width="2" height="1"/><rect x="694" y="724" width="1" height="1"/><rect x="695" y="723" width="1" height="2"/><rect x="696" y="723" width="1" height="2"/><rect x="697" y="723" width="1" height="2"/><rect x="698" y="724" width="2" height="1"/><rect x="700" y="724" width="1" height="1"/><rect x="701" y="723" width="2" height="2"/><rect x="703" y="724" width="1" height="1"/><rect x="704" y="724" width="2" height="1"/><rect x="706" y="724" width="1" height="1"/><rect x="707" y="723" width="2" height="2"/><rect x="709" y="722" width="1" height="3"/><rect x="710" y="722" width="1" height="3"/><rect x="711" y="722" width="1" height="3"/><rect x="712" y="724" width="2" height="1"/><rect x="714" y="724" width="1" height="1"/><rect x="715" y="724" width="2" height="1"/><rect x="717" y="722" width="1" height="3"/><rect x="718" y="724" width="1" height="1"/><rect x="719" y="724" width="1" height="1"/><rect x="720" y="724" width="1" height="1"/><rect x="721" y="724" width="2" height="1"/><rect x="723" y="723" width="2" height="2"/><rect x="725" y="723" width="2" height="2"/><rect x="727" y="724" width="2" height="1"/><rect x="729" y="722" width="1" height="3"/><rect x="730" y="724" width="1" height="1"/><rect x="731" y="723" width="2" height="2"/><rect x="733" y="723" width="2" height="2"/><rect x="735" y="723" width="2" height="2"/><rect x="737" y="724" width="2" height="1"/><rect x="739" y="723" width="1" height="2"/><rect x="740" y="724" width="2" height="1"/><rect x="742" y="722" width="1" height="3"/><rect x="743" y="724" width="2" height="1"/><rect x="745" y="724" width="2" height="1"/><rect x="747" y="723" width="1" height="2"/><rect x="748" y="724" width="2" height="1"/><rect x="750" y="723" width="2" height="2"/><rect x="752" y="724" width="1" height="1"/><rect x="753" y="721" width="1" height="4"/><rect x="754" y="723" width="1" height="2"/><rect x="755" y="723" width="2" height="2"/><rect x="757" y="723" width="2" height="2"/><rect x="759" y="724" width="2" height="1"/><rect x="761" y="723" width="2" height="2"/><rect x="763" y="723" width="2" height="2"/><rect x="765" y="722" width="1" height="3"/><rect x="766" y="721" width="1" height="4"/><rect x="767" y="723" width="2" height="2"/><rect x="769" y="723" width="2" height="2"/><rect x="771" y="724" width="1" height="1"/><rect x="772" y="724" width="2" height="1"/><rect x="774" y="721" width="1" height="4"/><rect x="775" y="724" width="1" height="1"/><rect x="776" y="724" width="1" height="1"/><rect x="777" y="724" width="2" height="1"/><rect x="779" y="724" width="1" height="1"/><rect x="780" y="724" width="2" height="1"/><rect x="782" y="723" width="1" height="2"/><rect x="783" y="724" width="1" height="1"/><rect x="784" y="723" width="2" height="2"/><rect x="786" y="724" width="1" height="1"/><rect x="787" y="724" width="1" height="1"/><rect x="788" y="724" width="2" height="1"/><rect x="790" y="723" width="1" height="2"/><rect x="791" y="724" width="1" height="1"/><rect x="792" y="724" width="2" height="1"/><rect x="794" y="724" width="2" height="1"/><rect x="796" y="723" width="1" height="2"/><rect x="797" y="724" width="2" height="1"/><rect x="799" y="722" width="1" height="3"/><rect x="800" y="724" width="2" height="1"/><rect x="802" y="721" width="1" height="4"/><rect x="803" y="724" width="1" height="1"/><rect x="804" y="724" width="2" height="1"/><rect x="806" y="723" width="1" height="2"/><rect x="807" y="723" width="2" height="2"/><rect x="809" y="724" width="2" height="1"/><rect x="811" y="723" width="1" height="2"/><rect x="813" y="724" width="2" height="1"/><rect x="815" y="723" width="2" height="2"/><rect x="817" y="724" width="1" height="1"/><rect x="818" y="724" width="1" height="1"/><rect x="819" y="722" width="1" height="3"/><rect x="820" y="723" width="2" height="2"/><rect x="822" y="721" width="1" height="4"/><rect x="823" y="724" width="2" height="1"/><rect x="825" y="724" width="2" height="1"/><rect x="829" y="723" width="2" height="2"/><rect x="831" y="724" width="1" height="1"/><rect x="832" y="723" width="1" height="2"/><rect x="833" y="724" width="1" height="1"/><rect x="834" y="721" width="1" height="4"/><rect x="835" y="723" width="2" height="2"/><rect x="837" y="724" width="2" height="1"/><rect x="839" y="724" width="2" height="1"/><rect x="841" y="724" width="2" height="1"/><rect x="843" y="724" width="2" height="1"/><rect x="845" y="723" width="1" height="2"/><rect x="846" y="723" width="1" height="2"/><rect x="847" y="724" width="1" height="1"/><rect x="848" y="724" width="1" height="1"/><rect x="849" y="723" width="1" height="2"/><rect x="850" y="723" width="1" height="2"/><rect x="851" y="724" width="1" height="1"/><rect x="852" y="721" width="1" height="4"/><rect x="853" y="723" width="2" height="2"/><rect x="856" y="723" width="1" height="2"/><rect x="857" y="723" width="1" height="2"/><rect x="860" y="723" width="1" height="2"/><rect x="861" y="723" width="1" height="2"/><rect x="862" y="724" width="2" height="1"/><rect x="864" y="724" width="1" height="1"/><rect x="865" y="724" width="2" height="1"/><rect x="867" y="724" width="1" height="1"/><rect x="868" y="723" width="1" height="2"/><rect x="869" y="722" width="1" height="3"/><rect x="870" y="723" width="2" height="2"/><rect x="872" y="724" width="2" height="1"/><rect x="874" y="724" width="1" height="1"/><rect x="875" y="724" width="2" height="1"/><rect x="877" y="723" width="1" height="2"/><rect x="878" y="724" width="2" height="1"/><rect x="880" y="723" width="1" height="2"/><rect x="881" y="724" width="1" height="1"/><rect x="882" y="724" width="1" height="1"/><rect x="883" y="724" width="2" height="1"/><rect x="885" y="724" width="2" height="1"/><rect x="887" y="723" width="2" height="2"/><rect x="889" y="723" width="1" height="2"/><rect x="890" y="724" width="1" height="1"/><rect x="892" y="723" width="2" height="2"/><rect x="894" y="723" width="2" height="2"/><rect x="896" y="723" width="1" height="2"/><rect x="897" y="724" width="1" height="1"/><rect x="898" y="723" width="1" height="2"/><rect x="899" y="724" width="2" height="1"/><rect x="901" y="723" width="2" height="2"/><rect x="903" y="723" width="1" height="2"/><rect x="904" y="723" width="2" height="2"/><rect x="906" y="723" width="1" height="2"/><rect x="907" y="723" width="1" height="2"/><rect x="908" y="723" width="2" height="2"/><rect x="910" y="723" width="2" height="2"/><rect x="912" y="723" width="1" height="2"/><rect x="913" y="722" width="1" height="3"/><rect x="914" y="723" width="1" height="2"/><rect x="915" y="724" width="1" height="1"/><rect x="916" y="723" width="2" height="2"/><rect x="918" y="724" width="2" height="1"/><rect x="920" y="724" width="1" height="1"/><rect x="921" y="724" width="2" height="1"/><rect x="923" y="724" width="2" height="1"/><rect x="925" y="723" width="2" height="2"/><rect x="927" y="723" width="1" height="2"/><rect x="928" y="722" width="1" height="3"/><rect x="929" y="721" width="1" height="4"/><rect x="930" y="723" width="2" height="2"/><rect x="932" y="724" width="2" height="1"/><rect x="934" y="724" width="2" height="1"/><rect x="936" y="724" width="2" height="1"/><rect x="938" y="723" width="1" height="2"/><rect x="939" y="723" width="1" height="2"/><rect x="940" y="724" width="1" height="1"/><rect x="941" y="721" width="1" height="4"/><rect x="942" y="722" width="1" height="3"/><rect x="943" y="723" width="1" height="2"/><rect x="944" y="723" width="2" height="2"/><rect x="946" y="724" width="2" height="1"/><rect x="948" y="723" width="1" height="2"/><rect x="949" y="724" width="1" height="1"/><rect x="950" y="724" width="1" height="1"/><rect x="951" y="723" width="1" height="2"/><rect x="952" y="723" width="1" height="2"/><rect x="953" y="723" width="1" height="2"/><rect x="954" y="723" width="1" height="2"/><rect x="955" y="723" width="1" height="2"/><rect x="956" y="721" width="1" height="4"/><rect x="957" y="723" width="1" height="2"/><rect x="958" y="724" width="2" height="1"/><rect x="960" y="723" width="2" height="2"/><rect x="962" y="723" width="1" height="2"/><rect x="963" y="721" width="1" height="4"/><rect x="964" y="723" width="2" height="2"/><rect x="966" y="724" width="1" height="1"/><rect x="967" y="723" width="2" height="2"/><rect x="969" y="723" width="2" height="2"/><rect x="971" y="724" width="2" height="1"/><rect x="973" y="724" width="1" height="1"/><rect x="974" y="723" width="2" height="2"/><rect x="976" y="723" width="2" height="2"/><rect x="978" y="723" width="1" height="2"/><rect x="979" y="723" width="1" height="2"/><rect x="980" y="724" width="1" height="1"/><rect x="981" y="723" width="1" height="2"/><rect x="982" y="724" width="2" height="1"/><rect x="984" y="723" width="1" height="2"/><rect x="985" y="724" width="1" height="1"/><rect x="986" y="724" width="1" height="1"/><rect x="987" y="722" width="1" height="3"/><rect x="988" y="721" width="1" height="4"/><rect x="989" y="723" width="2" height="2"/><rect x="991" y="724" width="2" height="1"/><rect x="993" y="724" width="2" height="1"/><rect x="995" y="723" width="2" height="2"/><rect x="997" y="724" width="2" height="1"/><rect x="999" y="724" width="2" height="1"/><rect x="1001" y="721" width="1" height="4"/><rect x="1003" y="724" width="1" height="1"/><rect x="1004" y="724" width="2" height="1"/><rect x="1006" y="723" width="1" height="2"/><rect x="1007" y="724" width="2" height="1"/><rect x="1009" y="724" width="1" height="1"/><rect x="1010" y="722" width="1" height="3"/><rect x="1011" y="724" width="1" height="1"/><rect x="1012" y="722" width="1" height="3"/><rect x="1013" y="721" width="1" height="4"/><rect x="1014" y="724" width="1" height="1"/><rect x="1015" y="724" width="2" height="1"/><rect x="1017" y="722" width="1" height="3"/><rect x="1018" y="724" width="2" height="1"/><rect x="1020" y="724" width="1" height="1"/><rect x="1021" y="724" width="2" height="1"/><rect x="1023" y="721" width="1" height="4"/><rect x="1024" y="724" width="2" height="1"/><rect x="1026" y="724" width="2" height="1"/><rect x="1028" y="724" width="1" height="1"/><rect x="1029" y="723" width="1" height="2"/><rect x="1030" y="722" width="1" height="3"/><rect x="1031" y="722" width="1" height="3"/><rect x="1032" y="723" width="1" height="2"/><rect x="1033" y="723" width="2" height="2"/><rect x="1035" y="724" width="1" height="1"/><rect x="1036" y="724" width="1" height="1"/><rect x="1037" y="723" width="1" height="2"/><rect x="1038" y="724" width="1" height="1"/><rect x="1039" y="723" width="2" height="2"/><rect x="1041" y="724" width="2" height="1"/><rect x="1043" y="722" width="1" height="3"/><rect x="1044" y="723" width="1" height="2"/><rect x="1045" y="724" width="2" height="1"/><rect x="1047" y="723" width="1" height="2"/><rect x="1048" y="723" width="1" height="2"/><rect x="1049" y="721" width="1" height="4"/><rect x="1050" y="724" width="2" height="1"/><rect x="1052" y="723" width="1" height="2"/><rect x="1053" y="723" width="1" height="2"/><rect x="1054" y="724" width="2" height="1"/></g><g fill="#000094"><rect x="186" y="409" width="2" height="316"/><rect x="269" y="521" width="1" height="204"/><rect x="275" y="521" width="1" height="204"/><rect x="357" y="438" width="2" height="287"/><rect x="360" y="437" width="2" height="288"/><rect x="440" y="630" width="2" height="95"/><rect x="443" y="565" width="1" height="160"/><rect x="449" y="564" width="1" height="161"/><rect x="452" y="631" width="1" height="94"/><rect x="523" y="712" width="1" height="13"/><rect x="526" y="649" width="1" height="76"/><rect x="532" y="630" width="1" height="95"/><rect x="534" y="631" width="2" height="94"/><rect x="540" y="650" width="2" height="75"/><rect x="543" y="712" width="2" height="13"/><rect x="608" y="711" width="2" height="14"/><rect x="614" y="650" width="1" height="75"/><rect x="615" y="651" width="1" height="74"/><rect x="617" y="658" width="2" height="67"/><rect x="623" y="658" width="1" height="67"/><rect x="626" y="650" width="1" height="75"/><rect x="632" y="711" width="1" height="14"/><rect x="697" y="668" width="1" height="57"/><rect x="700" y="673" width="1" height="52"/><rect x="706" y="698" width="1" height="27"/><rect x="709" y="698" width="1" height="27"/><rect x="714" y="669" width="2" height="56"/><rect x="717" y="669" width="2" height="56"/><rect x="780" y="709" width="1" height="16"/><rect x="783" y="677" width="1" height="48"/><rect x="788" y="686" width="2" height="39"/><rect x="791" y="710" width="2" height="15"/><rect x="797" y="709" width="1" height="16"/><rect x="800" y="686" width="1" height="39"/><rect x="806" y="677" width="1" height="48"/><rect x="809" y="710" width="1" height="15"/><rect x="865" y="708" width="2" height="17"/><rect x="871" y="695" width="1" height="30"/><rect x="874" y="690" width="1" height="35"/><rect x="888" y="691" width="2" height="34"/><rect x="891" y="695" width="2" height="30"/><rect x="897" y="710" width="2" height="15"/><rect x="954" y="687" width="1" height="38"/><rect x="957" y="704" width="1" height="21"/><rect x="980" y="701" width="1" height="24"/><rect x="983" y="687" width="1" height="38"/><rect x="962" y="720" width="2" height="5"/><rect x="965" y="718" width="2" height="7"/><rect x="971" y="719" width="2" height="6"/><rect x="974" y="720" width="1" height="5"/><rect x="1036" y="708" width="2" height="17"/><rect x="1039" y="690" width="2" height="35"/><rect x="1045" y="700" width="2" height="25"/><rect x="1048" y="718" width="1" height="7"/><rect x="1054" y="709" width="1" height="16"/><rect x="266" y="719" width="1" height="6"/><rect x="352" y="715" width="1" height="10"/><rect x="366" y="716" width="2" height="9"/><rect x="369" y="721" width="1" height="4"/><rect x="355" y="721" width="1" height="4"/><rect x="345" y="722" width="1" height="3"/><rect x="271" y="723" width="1" height="2"/><rect x="277" y="721" width="1" height="4"/></g><g font-family="'Liberation Sans',Arial,sans-serif" font-size="13" fill="#000" text-rendering="geometricPrecision"><text x="141.6" y="100.6" text-anchor="end">400</text><text x="141.6" y="142.6" text-anchor="end">200</text><text x="141" y="185.6" text-anchor="end">0</text><text x="141.6" y="228.6" text-anchor="end">-200</text><text x="141.6" y="271.6" text-anchor="end">-400</text><text x="145.5" y="283" text-anchor="middle">0</text><text x="258.2" y="283" text-anchor="middle">0.005</text><text x="371.8" y="283" text-anchor="middle">0.01</text><text x="484.2" y="283" text-anchor="middle">0.015</text><text x="599" y="283" text-anchor="middle">0.02</text><text x="711" y="283" text-anchor="middle">0.025</text><text x="824.5" y="283" text-anchor="middle">0.03</text><text x="938" y="283" text-anchor="middle">0.035</text><text x="598.5" y="85" text-anchor="middle" letter-spacing="0.07">FFT<tspan dx="-0.5"> window:</tspan><tspan dx="-1.2"> 2</tspan> of<tspan dx="-0.8"> 5</tspan><tspan dx="0.8"> cycles</tspan><tspan dx="0.4"> of</tspan><tspan dx="0.6"> selected</tspan><tspan dx="0.2"> signal</tspan></text><text x="597.5" y="299.5" text-anchor="middle">Time (s)</text><text x="136.7" y="731.7" text-anchor="end">0</text><text x="136.7" y="694.7" text-anchor="end">5</text><text x="136.7" y="657.7" text-anchor="end">10</text><text x="136.7" y="621.7" text-anchor="end">15</text><text x="136.7" y="584.7" text-anchor="end">20</text><text x="136.7" y="548.7" text-anchor="end">25</text><text x="136.7" y="511.7" text-anchor="end">30</text><text x="136.7" y="474.7" text-anchor="end">35</text><text x="136.7" y="438.7" text-anchor="end">40</text><text x="185.6" y="742.6" text-anchor="middle">0</text><text x="330.6" y="742.6" text-anchor="middle">0.5</text><text x="475.6" y="742.6" text-anchor="middle">1</text><text x="620.6" y="742.6" text-anchor="middle">1.5</text><text x="765.6" y="742.6" text-anchor="middle">2</text><text x="909.6" y="742.6" text-anchor="middle">2.5</text><text x="1055" y="742.6" text-anchor="middle">3</text><text x="599" y="399" text-anchor="middle">Fundamental (50Hz)<tspan dx="-1.7"> =</tspan><tspan dx="0.7"> 214.7</tspan><tspan dx="2.2"> ,</tspan><tspan dx="-1.6"> THD=</tspan> 91.60%</text><text x="596.3" y="760" text-anchor="middle">Frequency (Hz)</text><text transform="translate(113,569.8) rotate(-90)" text-anchor="middle">Mag (% of Fundamental)</text><text x="1025.5" y="767" text-anchor="start">x 10</text><text x="1049.5" y="753.5" text-anchor="start" font-size="10">4</text></g></svg>
</body></html>
